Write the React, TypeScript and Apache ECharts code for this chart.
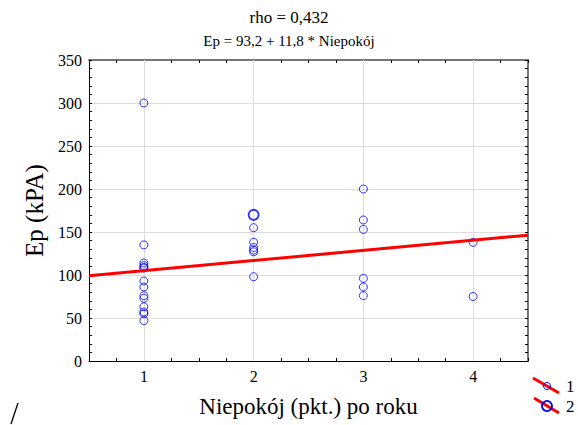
import React, { useEffect, useRef } from "react";
import * as echarts from "echarts";

// Single observations: x = Niepokój score, y = Ep (kPA)
const singleX = [1, 1, 1, 1, 1, 1, 1, 1, 1, 1, 1, 1, 1, 1, 2, 2, 2, 2, 2, 2, 3, 3, 3, 3, 3, 3, 4, 4];
const singleY = [300, 135, 114, 111, 109, 108, 93, 86, 76, 73, 63, 57, 55, 47, 155, 138, 132, 129, 127, 98, 200, 164, 153, 96, 86, 76, 138, 75];
// Doubled observations (two points at the same position)
const doubleX = [2];
const doubleY = [170];

const intercept = 93.2;
const slope = 11.8;
const xMin = 0.5;
const xMax = 4.5;
const xGridValues = [1, 2, 3, 4];

const titleText = "rho = 0,432";
const subtitleText = "Ep = 93,2 + 11,8 * Niepokój";
const xName = "Niepokój (pkt.) po roku";
const yName = "Ep (kPA)";
const legendLabels = ["1", "2"];

const FONT = "Liberation Serif";

export default function App() {
  const ref = useRef<HTMLDivElement>(null);
  useEffect(() => {
    if (!ref.current) return;
    const chart = echarts.init(ref.current, null, { renderer: "svg" });
    const singles = singleX.map((x, i) => [x, singleY[i]]);
    const doubles = doubleX.map((x, i) => [x, doubleY[i]]);
    const regLine = [
      [xMin, intercept + slope * xMin],
      [xMax, intercept + slope * xMax],
    ];
    const tickStyle = { show: true, inside: true, length: 3, lineStyle: { color: "#000", width: 1 } };
    chart.setOption({
      animation: false,
      backgroundColor: "#fff",
      textStyle: { fontFamily: FONT },
      title: [
        { text: titleText, left: "center", top: 4, textStyle: { fontFamily: FONT, fontSize: 17, fontWeight: "normal", color: "#000" } },
        { text: subtitleText, left: "center", top: 28, textStyle: { fontFamily: FONT, fontSize: 15, fontWeight: "normal", color: "#000" } },
      ],
      grid: { left: 89, right: 50, top: 60, bottom: 64, containLabel: false, outerBoundsMode: "none" },
      xAxis: [
        {
          type: "value",
          min: xMin,
          max: xMax,
          interval: 0.25,
          position: "bottom",
          name: xName,
          nameLocation: "middle",
          nameGap: 34,
          nameTextStyle: { fontFamily: FONT, fontSize: 23, color: "#000" },
          axisLine: { show: true, onZero: false, lineStyle: { color: "#000", width: 1 } },
          axisTick: tickStyle,
          axisLabel: {
            fontFamily: FONT,
            fontSize: 16,
            color: "#000",
            margin: 7,
            formatter: (v: number) => (Number.isInteger(v) ? String(v) : ""),
          },
          splitLine: { show: false },
        },
        {
          type: "value",
          min: xMin,
          max: xMax,
          interval: 0.25,
          position: "top",
          axisLine: { show: true, onZero: false, lineStyle: { color: "#777", width: 2 } },
          axisTick: tickStyle,
          axisLabel: { show: false },
          splitLine: { show: false },
        },
      ],
      yAxis: [
        {
          type: "value",
          min: 0,
          max: 350,
          interval: 50,
          position: "left",
          name: yName,
          nameLocation: "middle",
          nameGap: 42,
          nameTextStyle: { fontFamily: FONT, fontSize: 25, color: "#000" },
          axisLine: { show: true, onZero: false, lineStyle: { color: "#000", width: 1 } },
          axisTick: tickStyle,
          minorTick: { show: true, splitNumber: 5, length: 3, lineStyle: { color: "#000", width: 1 } },
          axisLabel: { fontFamily: FONT, fontSize: 16, color: "#000", margin: 7 },
          splitLine: { show: true, lineStyle: { color: "#dcdcdc", width: 1 } },
        },
        {
          type: "value",
          min: 0,
          max: 350,
          interval: 50,
          position: "right",
          axisLine: { show: true, onZero: false, lineStyle: { color: "#777", width: 2 } },
          axisTick: tickStyle,
          minorTick: { show: true, splitNumber: 5, length: 3, lineStyle: { color: "#000", width: 1 } },
          axisLabel: { show: false },
          splitLine: { show: false },
        },
      ],
      series: [
        {
          type: "scatter",
          name: "1",
          data: singles,
          symbol: "circle",
          symbolSize: 8,
          z: 3,
          itemStyle: { color: "transparent", borderColor: "#0000ff", borderWidth: 1 },
          markLine: {
            silent: true,
            symbol: "none",
            z: 1,
            label: { show: false },
            lineStyle: { color: "#dcdcdc", width: 1, type: "solid" },
            data: xGridValues.map((v) => ({ xAxis: v })),
          },
        },
        {
          type: "scatter",
          name: "2",
          data: doubles,
          symbol: "circle",
          symbolSize: 10,
          z: 3,
          itemStyle: { color: "transparent", borderColor: "#0000ff", borderWidth: 1.8 },
        },
        {
          type: "line",
          data: regLine,
          symbol: "none",
          z: 4,
          lineStyle: { color: "#ff0000", width: 3 },
        },
      ],
      graphic: [
        { type: "line", shape: { x1: 533, y1: 378, x2: 559, y2: 393 }, style: { stroke: "#ff0000", lineWidth: 3 } },
        { type: "circle", shape: { cx: 547, cy: 386, r: 3.5 }, style: { fill: "none", stroke: "#0000ff", lineWidth: 1 } },
        { type: "text", x: 566, y: 386, style: { text: legendLabels[0], fontFamily: FONT, fontSize: 17, fill: "#000", verticalAlign: "middle" } },
        { type: "line", shape: { x1: 534, y1: 398, x2: 559, y2: 413 }, style: { stroke: "#ff0000", lineWidth: 3 } },
        { type: "circle", shape: { cx: 547, cy: 406, r: 5 }, style: { fill: "none", stroke: "#0000ff", lineWidth: 1.8 } },
        { type: "text", x: 566, y: 406, style: { text: legendLabels[1], fontFamily: FONT, fontSize: 17, fill: "#000", verticalAlign: "middle" } },
        { type: "line", shape: { x1: 18, y1: 403, x2: 11, y2: 424 }, style: { stroke: "#000", lineWidth: 1.3 } },
      ],
    });
    return () => chart.dispose();
  }, []);
  return <div ref={ref} style={{ position: "fixed", left: 0, top: 0, width: 578, height: 425 }} />;
}
